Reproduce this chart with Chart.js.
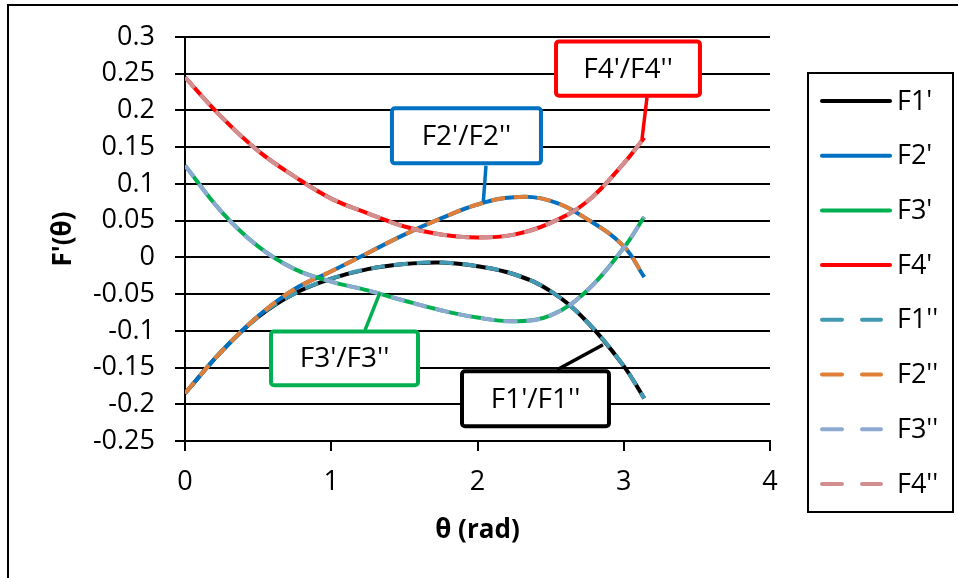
<!DOCTYPE html>
<html>
<head>
<meta charset="utf-8">
<script src="https://cdn.jsdelivr.net/npm/chart.js@4/dist/chart.umd.min.js"></script>
<style>
  html, body { margin: 0; padding: 0; background: #fff; }
  canvas { display: block; }
</style>
</head>
<body>
<canvas id="chart" width="958" height="578"></canvas>
<script>
// values (F'' lies on top of F', same values)
const theta = [0, 0.25, 0.5, 0.75, 1, 1.25, 1.5, 1.75, 2, 2.25, 2.5, 2.75, 3, 3.14];
const f1 = [-0.185, -0.128, -0.081, -0.049, -0.029, -0.016, -0.009, -0.007, -0.012, -0.023, -0.046, -0.088, -0.148, -0.192];
const f2 = [-0.185, -0.128, -0.080, -0.043, -0.019, 0.006, 0.031, 0.053, 0.072, 0.082, 0.077, 0.052, 0.015, -0.027];
const f3 = [0.125, 0.062, 0.015, -0.016, -0.033, -0.045, -0.059, -0.072, -0.082, -0.087, -0.079, -0.045, 0.013, 0.055];
const f4 = [0.245, 0.191, 0.145, 0.110, 0.080, 0.060, 0.042, 0.031, 0.027, 0.031, 0.047, 0.076, 0.128, 0.163];

const namesD1 = ["F1'", "F2'", "F3'", "F4'"];
const namesD2 = ["F1''", "F2''", "F3''", "F4''"];
const xTicks = [0, 1, 2, 3, 4];
const yTicks = [-0.25, -0.2, -0.15, -0.1, -0.05, 0, 0.05, 0.1, 0.15, 0.2, 0.25, 0.3];

const colorsD1 = ['#000000', '#0070C0', '#00B050', '#FF0000'];
const colorsD2 = ['#4398B2', '#E07F38', '#8DA9D2', '#D18F8F'];
const FONT = '"Open Sans", "Liberation Sans", sans-serif';

// callout boxes, in axis units: [left, top, right, bottom], leader from -> to
const callouts = [
  { text: "F4'/F4''", color: '#FF0000', box: [2.537, 0.294, 3.521, 0.220], from: [3.159, 0.218], to: [3.125, 0.161] },
  { text: "F2'/F2''", color: '#0070C0', box: [1.415, 0.203, 2.434, 0.128], from: [2.058, 0.125], to: [2.040, 0.076] },
  { text: "F3'/F3''", color: '#00B050', box: [0.588, -0.101, 1.593, -0.174], from: [1.231, -0.099], to: [1.333, -0.048] },
  { text: "F1'/F1''", color: '#000000', box: [1.894, -0.155, 2.899, -0.230], from: [2.544, -0.153], to: [2.858, -0.119] }
];

const series = [f1, f2, f3, f4];
const pts = arr => theta.map((t, i) => ({ x: t, y: arr[i] }));

const datasets = [];
series.forEach((s, i) => datasets.push({
  label: namesD1[i], data: pts(s), borderColor: colorsD1[i], borderWidth: 4,
  pointRadius: 0, tension: 0.4, fill: false, order: 8 - i
}));
series.forEach((s, i) => datasets.push({
  label: namesD2[i], data: pts(s), borderColor: colorsD2[i], borderWidth: 4,
  borderDash: [14, 9], pointRadius: 0, tension: 0.4, fill: false, order: 4 - i
}));

const notes = {
  id: 'notes',
  beforeDraw(chart) {
    const c = chart.ctx;
    c.save();
    c.fillStyle = '#000';
    c.fillRect(7, 4, 2, chart.height);
    c.fillRect(7, 4, chart.width, 2);
    c.restore();
  },
  afterDatasetsDraw(chart) {
    const c = chart.ctx, x = chart.scales.x, y = chart.scales.y;
    c.save();
    callouts.forEach(n => {
      c.strokeStyle = n.color;
      c.lineWidth = 3.5;
      c.beginPath();
      c.moveTo(x.getPixelForValue(n.from[0]), y.getPixelForValue(n.from[1]));
      c.lineTo(x.getPixelForValue(n.to[0]), y.getPixelForValue(n.to[1]));
      c.stroke();
      const l = x.getPixelForValue(n.box[0]), t = y.getPixelForValue(n.box[1]);
      const r = x.getPixelForValue(n.box[2]), b = y.getPixelForValue(n.box[3]);
      c.beginPath();
      c.roundRect(l, t, r - l, b - t, 3);
      c.fillStyle = '#fff';
      c.fill();
      c.lineWidth = 4;
      c.stroke();
      c.fillStyle = '#000';
      c.font = '28px ' + FONT;
      c.textAlign = 'center';
      c.textBaseline = 'middle';
      c.fillText(n.text, (l + r) / 2, (t + b) / 2 + 1);
    });
    c.restore();
  },
  afterDraw(chart) {
    // legend box on the right
    const c = chart.ctx;
    c.save();
    c.strokeStyle = '#000';
    c.lineWidth = 2;
    c.strokeRect(808, 73, 145, 439);
    chart.data.datasets.forEach((d, i) => {
      const yc = 101 + i * 54.7;
      c.strokeStyle = d.borderColor;
      c.lineWidth = 4;
      c.lineCap = 'round';
      c.beginPath();
      if (d.borderDash) {
        c.setLineDash([20, 20]);
        c.moveTo(822, yc); c.lineTo(881, yc);
      } else {
        c.setLineDash([]);
        c.moveTo(822, yc); c.lineTo(890, yc);
      }
      c.stroke();
      c.setLineDash([]);
      c.fillStyle = '#000';
      c.font = '27px ' + FONT;
      c.textAlign = 'left';
      c.textBaseline = 'middle';
      c.fillText(d.label, 897, yc + 1);
    });
    c.restore();
  }
};

new Chart(document.getElementById('chart'), {
  type: 'line',
  data: { datasets },
  options: {
    responsive: false,
    animation: false,
    layout: { padding: { left: 0, top: 37, right: 188, bottom: 0 } },
    plugins: { legend: { display: false }, tooltip: { enabled: false } },
    scales: {
      x: {
        type: 'linear', min: 0, max: 4,
        afterBuildTicks: s => { s.ticks = xTicks.map(v => ({ value: v })); },
        afterFit: s => { s.height = 137; },
        ticks: { color: '#000', padding: 15, font: { family: FONT, size: 27 } },
        grid: { drawOnChartArea: false, drawTicks: true, tickLength: 10, color: '#000', lineWidth: 2 },
        border: { color: '#000', width: 2 },
        title: { display: true, text: 'θ (rad)', color: '#000', padding: { top: 0, bottom: 32 },
                 font: { family: FONT, size: 26, weight: 'bold' } }
      },
      y: {
        type: 'linear', min: -0.25, max: 0.3,
        afterBuildTicks: s => { s.ticks = yTicks.map(v => ({ value: v })); },
        afterFit: s => { s.width = 185; },
        ticks: { color: '#000', padding: 20, font: { family: FONT, size: 27 },
                 callback: v => String(+v.toFixed(2)) },
        grid: { color: '#000', lineWidth: 2, tickLength: 10 },
        border: { color: '#000', width: 2 },
        title: { display: true, text: "F'(θ)", color: '#000', padding: { top: 48, bottom: 0 },
                 font: { family: FONT, size: 26, weight: 'bold' } }
      }
    }
  },
  plugins: [notes]
});
</script>
</body>
</html>
